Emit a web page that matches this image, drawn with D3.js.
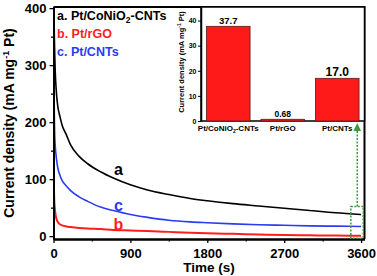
<!DOCTYPE html>
<html>
<head>
<meta charset="utf-8">
<script src="https://cdn.jsdelivr.net/npm/d3@7"></script>
<style>
body { margin: 0; background: #fff; }
text { font-family: Arial, "Liberation Sans", sans-serif; font-weight: bold; }
</style>
</head>
<body>
<svg id="chart" width="377" height="276"></svg>
<script>
// time (s) sampled along the curves
var times   = [0, 3, 6, 10, 15, 20, 35, 50, 75, 100, 150, 200, 300, 400, 550, 700, 900, 1100, 1350, 1600, 1800, 2100, 2400, 2700, 3000, 3300, 3600];
// a. Pt/CoNiO2-CNTs
var seriesA = [420, 405, 390, 350, 315, 290, 250, 228, 210, 195, 178, 160, 140, 127, 113, 102, 90, 81, 73, 66, 62, 57, 53, 49, 45, 41, 38];
// b. Pt/rGO
var seriesB = [150, 110, 80, 60, 50, 42, 30, 25, 21, 19, 17, 16, 14.5, 13.5, 12.5, 11, 10, 9, 7.5, 6, 5, 4, 3, 2, 1.5, 1, 0.7];
// c. Pt/CNTs
var seriesC = [362, 320, 270, 210, 175, 160, 135, 120, 107, 98, 88, 80, 69, 61, 51, 45, 38, 33, 28, 25, 23.5, 21.5, 20, 19, 18, 17.5, 17];

var xTicks = [0, 900, 1800, 2700, 3600];
var xMinor = [450, 1350, 2250, 3150];
var yTicks = [0, 100, 200, 300, 400];
var yMinor = [50, 150, 250, 350];

// inset bar chart
var barCats   = ["Pt/CoNiO2-CNTs", "Pt/rGO", "Pt/CNTs"];
var barValues = [37.7, 0.68, 17.0];
var barLabels = ["37.7", "0.68", "17.0"];
var insetTicks = [0, 10, 20, 30, 40];

var black = "#000000", red = "#ff1e1e", blue = "#2a3cf0", green = "#3c9a3c";

var svg = d3.select("#chart");

var x = d3.scaleLinear().domain([0, 3640]).range([53.5, 364.5]);
var y = d3.scaleLinear().domain([-5, 402]).range([239, 7]);

svg.append("defs").append("clipPath").attr("id", "plotclip")
    .append("rect")
    .attr("x", x(0)).attr("y", y(402))
    .attr("width", x(3640) - x(0)).attr("height", y(-5) - y(402));

// main curves
var line = d3.line()
    .x(function (d) { return x(d[0]); })
    .y(function (d) { return y(d[1]); })
    .curve(d3.curveMonotoneX);

var curves = [
    {vals: seriesA, color: black, w: 1.6},
    {vals: seriesC, color: blue, w: 1.6},
    {vals: seriesB, color: red, w: 2}
];

svg.append("g").attr("clip-path", "url(#plotclip)")
    .selectAll("path")
    .data(curves)
    .enter()
    .append("path")
    .attr("d", function (c) { return line(times.map(function (t, i) { return [t, c.vals[i]]; })); })
    .style("fill", "none")
    .style("stroke", function (c) { return c.color; })
    .style("stroke-width", function (c) { return c.w; });

// axes
var xAxis = svg.append("g").attr("transform", "translate(0," + y(-5) + ")")
    .call(d3.axisBottom(x).tickValues(xTicks).tickSize(4).tickSizeOuter(0).tickPadding(6).tickFormat(d3.format("d")));
svg.append("g").attr("transform", "translate(0," + y(-5) + ")")
    .call(d3.axisBottom(x).tickValues(xMinor).tickSize(2.5).tickSizeOuter(0).tickFormat(""));
var yAxis = svg.append("g").attr("transform", "translate(" + x(0) + ",0)")
    .call(d3.axisLeft(y).tickValues(yTicks).tickSize(4).tickSizeOuter(0).tickPadding(3));
svg.append("g").attr("transform", "translate(" + x(0) + ",0)")
    .call(d3.axisLeft(y).tickValues(yMinor).tickSize(2.5).tickSizeOuter(0).tickFormat(""));

svg.selectAll(".domain").style("stroke-width", 2);
svg.selectAll(".tick line").style("stroke-width", 1.3);
xAxis.selectAll("text").style("font-size", "13px").style("font-weight", "bold");
yAxis.selectAll("text").style("font-size", "13px").style("font-weight", "bold");

// top and right frame
svg.append("path")
    .attr("d", "M" + x(0) + "," + y(402) + "H" + x(3640) + "V" + y(-5))
    .style("fill", "none").style("stroke", black).style("stroke-width", 2);

// axis titles
svg.append("text")
    .attr("x", (x(0) + x(3640)) / 2).attr("y", 272)
    .attr("text-anchor", "middle")
    .style("font-size", "13.5px")
    .text("Time (s)");

var yt = svg.append("text")
    .attr("transform", "translate(14," + (y(-5) + y(402)) / 2 + ") rotate(-90)")
    .attr("text-anchor", "middle")
    .style("font-size", "14px");
yt.append("tspan").text("Current density (mA mg");
yt.append("tspan").attr("dy", -5).style("font-size", "9px").text("-1");
yt.append("tspan").attr("dy", 5).text(" Pt)");

// legend
var lg1 = svg.append("text").attr("x", 57).attr("y", 19.5).style("font-size", "12.5px").style("fill", black);
lg1.append("tspan").text("a. Pt/CoNiO");
lg1.append("tspan").attr("dy", 3).style("font-size", "8.5px").text("2");
lg1.append("tspan").attr("dy", -3).text("-CNTs");
svg.append("text").attr("x", 57).attr("y", 37.5).style("font-size", "12.5px").style("fill", red).text("b. Pt/rGO");
svg.append("text").attr("x", 57).attr("y", 55.5).style("font-size", "12.5px").style("fill", blue).text("c. Pt/CNTs");

// curve labels
svg.append("text").attr("x", x(760)).attr("y", 175).attr("text-anchor", "middle")
    .style("font-size", "16px").style("fill", black).text("a");
svg.append("text").attr("x", x(760)).attr("y", 211).attr("text-anchor", "middle")
    .style("font-size", "16px").style("fill", blue).text("c");
svg.append("text").attr("x", x(760)).attr("y", 230).attr("text-anchor", "middle")
    .style("font-size", "16px").style("fill", red).text("b");

// green zoom marker and arrow
svg.append("rect")
    .attr("x", x(3480)).attr("y", y(52))
    .attr("width", x(3625) - x(3480)).attr("height", y(-3.5) - y(52))
    .style("fill", "none").style("stroke", green).style("stroke-width", 1.5)
    .style("stroke-dasharray", "2,1.5");
svg.append("line")
    .attr("x1", x(3555)).attr("x2", x(3555))
    .attr("y1", y(52)).attr("y2", 130)
    .style("stroke", green).style("stroke-width", 1.5).style("stroke-dasharray", "2,1.5");
svg.append("path")
    .attr("d", "M" + (x(3555) - 3.8) + ",131L" + x(3555) + ",123L" + (x(3555) + 3.8) + ",131Z")
    .style("fill", green);

// inset
var ix = d3.scaleBand().domain(barCats).range([201, 364.5]).paddingInner(0.2).paddingOuter(0.1);
var iy = d3.scaleLinear().domain([0, 45.4]).range([121, 7]);

svg.append("rect")
    .attr("x", 201).attr("y", 7).attr("width", 364.5 - 201).attr("height", 121 - 7)
    .style("fill", "#fff").style("stroke", black).style("stroke-width", 1.5);

svg.append("g").selectAll("rect")
    .data(barValues)
    .enter()
    .append("rect")
    .attr("x", function (d, i) { return ix(barCats[i]); })
    .attr("y", function (d) { return iy(d); })
    .attr("width", ix.bandwidth())
    .attr("height", function (d) { return iy(0) - iy(d); })
    .style("fill", "#ff1a1a")
    .style("stroke", "#5a1a1a")
    .style("stroke-width", 0.8);

var labelSizes = [9.5, 8.5, 12];
svg.append("g").selectAll("text")
    .data(barValues)
    .enter()
    .append("text")
    .attr("x", function (d, i) { return ix(barCats[i]) + ix.bandwidth() / 2; })
    .attr("y", function (d) { return iy(d) - 2; })
    .attr("text-anchor", "middle")
    .style("font-size", function (d, i) { return labelSizes[i] + "px"; })
    .text(function (d, i) { return barLabels[i]; });

var iyAxis = svg.append("g").attr("transform", "translate(201,0)")
    .call(d3.axisLeft(iy).tickValues(insetTicks).tickSize(3).tickSizeOuter(0).tickPadding(1.5));
iyAxis.select(".domain").style("stroke-width", 1.5);
iyAxis.selectAll("text").style("font-size", "7px").style("font-weight", "bold");

// inset category labels
var cx = function (i) { return ix(barCats[i]) + ix.bandwidth() / 2; };
var c1 = svg.append("text").attr("x", cx(0)).attr("y", 131).attr("text-anchor", "middle").style("font-size", "8px");
c1.append("tspan").text("Pt/CoNiO");
c1.append("tspan").attr("dy", 2).style("font-size", "5px").text("2");
c1.append("tspan").attr("dy", -2).text("-CNTs");
svg.append("text").attr("x", cx(1)).attr("y", 131).attr("text-anchor", "middle").style("font-size", "8px").text(barCats[1]);
svg.append("text").attr("x", cx(2)).attr("y", 131).attr("text-anchor", "middle").style("font-size", "8px").text(barCats[2]);

// inset y title
var it = svg.append("text")
    .attr("transform", "translate(184,62) rotate(-90)")
    .attr("text-anchor", "middle")
    .style("font-size", "7.5px");
it.append("tspan").text("Current density (mA mg");
it.append("tspan").attr("dy", -3).style("font-size", "5px").text("-1");
it.append("tspan").attr("dy", 3).text(" Pt)");
</script>
</body>
</html>
